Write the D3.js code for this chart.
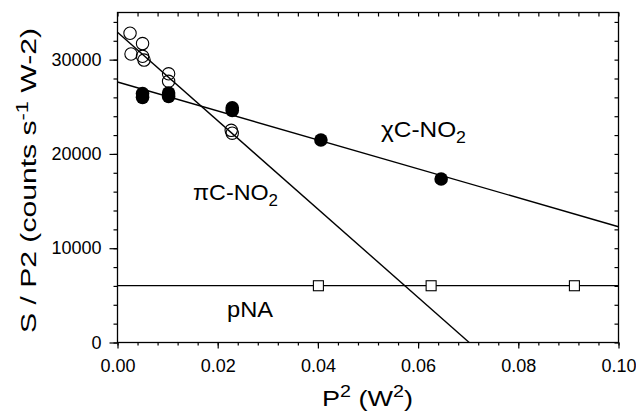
<!DOCTYPE html>
<html>
<head>
<meta charset="utf-8">
<script src="https://cdn.jsdelivr.net/npm/d3@7"></script>
<style>
  body { margin: 0; background: #fff; }
  svg { display: block; font-family: "Liberation Sans", Arial, sans-serif; }
</style>
</head>
<body>
<div id="chart"></div>
<script>
// open circles (piC-NO2)
const piX = [0.0025, 0.0027, 0.005, 0.005, 0.0053, 0.0102, 0.0102, 0.0227, 0.0229];
const piY = [32800, 30600, 31700, 30350, 29950, 28500, 27700, 22500, 22200];
// filled circles (chiC-NO2)
const chiX = [0.005, 0.005, 0.0102, 0.0102, 0.0229, 0.0229, 0.0406, 0.0646];
const chiY = [26400, 26000, 26450, 26100, 24900, 24600, 21480, 17340];
// open squares (pNA)
const pnaX = [0.0401, 0.0626, 0.0912];
const pnaY = [6020, 6020, 6020];

// fitted lines, end points
const piFitX = [0, 0.0702];
const piFitY = [32900, 0];
const chiFitX = [0, 0.1];
const chiFitY = [27630, 12280];
const pnaFitX = [0, 0.1];
const pnaFitY = [6030, 6030];

const xTicks = [0, 0.02, 0.04, 0.06, 0.08, 0.10];
const xTickLabels = ["0.00", "0.02", "0.04", "0.06", "0.08", "0.10"];
const yTicks = [0, 10000, 20000, 30000];
const yTickLabels = ["0", "10000", "20000", "30000"];

const width = 636;
const height = 412;
const margin = { top: 12.5, right: 17.5, bottom: 69.5, left: 117.5 };

const svg = d3.select("#chart")
    .append("svg")
    .attr("width", width)
    .attr("height", height);

const x = d3.scaleLinear()
    .domain([0, 0.1])
    .range([margin.left, width - margin.right]);

const y = d3.scaleLinear()
    .domain([0, 35000])
    .range([height - margin.bottom, margin.top]);

const xMinor = d3.range(0, 0.1001, 0.004);
const yMinor = d3.range(0, 35001, 2000);

// axes: ticks
svg.append("g")
    .attr("transform", `translate(0,${y(0)})`)
    .call(d3.axisBottom(x).tickValues(xMinor).tickSize(3).tickFormat(""));
svg.append("g")
    .attr("transform", `translate(0,${y(0)})`)
    .call(d3.axisBottom(x).tickValues(xTicks).tickSize(6)
        .tickFormat((d, i) => xTickLabels[i]).tickPadding(11));
svg.append("g")
    .attr("transform", `translate(0,${y(35000)})`)
    .call(d3.axisBottom(x).tickValues(xMinor).tickSize(4).tickFormat(""));
svg.append("g")
    .attr("transform", `translate(${x(0)},0)`)
    .call(d3.axisLeft(y).tickValues(yMinor).tickSize(4).tickFormat(""));
svg.append("g")
    .attr("transform", `translate(${x(0)},0)`)
    .call(d3.axisLeft(y).tickValues(yTicks).tickSize(8)
        .tickFormat((d, i) => yTickLabels[i]).tickPadding(8));
svg.append("g")
    .attr("transform", `translate(${x(0.1)},0)`)
    .call(d3.axisLeft(y).tickValues(yMinor).tickSize(4).tickFormat(""));

svg.selectAll(".domain").remove();
svg.selectAll(".tick line").attr("stroke", "#000").attr("stroke-width", 1.2);
svg.selectAll(".tick text")
    .attr("fill", "#000")
    .style("font-size", "18px")
    .style("font-family", "Liberation Sans, Arial, sans-serif");

// frame
svg.append("rect")
    .attr("x", x(0))
    .attr("y", y(35000))
    .attr("width", x(0.1) - x(0))
    .attr("height", y(0) - y(35000))
    .attr("fill", "none")
    .attr("stroke", "#000")
    .attr("stroke-width", 1.3);

// fit lines
const line = d3.line().x(d => x(d[0])).y(d => y(d[1]));
const fits = [
  [piFitX, piFitY],
  [chiFitX, chiFitY],
  [pnaFitX, pnaFitY]
];
fits.forEach(([fx, fy]) => {
  svg.append("path")
      .datum(fx.map((v, i) => [v, fy[i]]))
      .attr("d", line)
      .attr("fill", "none")
      .attr("stroke", "#000")
      .attr("stroke-width", 1.4);
});

// markers
svg.append("g")
    .selectAll("circle")
    .data(piX.map((v, i) => [v, piY[i]]))
    .join("circle")
    .attr("cx", d => x(d[0]))
    .attr("cy", d => y(d[1]))
    .attr("r", 6.2)
    .attr("fill", "none")
    .attr("stroke", "#000")
    .attr("stroke-width", 1.1);

svg.append("g")
    .selectAll("circle")
    .data(chiX.map((v, i) => [v, chiY[i]]))
    .join("circle")
    .attr("cx", d => x(d[0]))
    .attr("cy", d => y(d[1]))
    .attr("r", 6.8)
    .attr("fill", "#000");

svg.append("g")
    .selectAll("rect")
    .data(pnaX.map((v, i) => [v, pnaY[i]]))
    .join("rect")
    .attr("x", d => x(d[0]) - 5)
    .attr("y", d => y(d[1]) - 5)
    .attr("width", 10)
    .attr("height", 10)
    .attr("fill", "#fff")
    .attr("stroke", "#000")
    .attr("stroke-width", 1.1);

// series labels
const label = (px, py, len, size, parts) => {
  const t = svg.append("text")
      .attr("x", px)
      .attr("y", py)
      .attr("textLength", len)
      .attr("lengthAdjust", "spacingAndGlyphs")
      .style("font-size", size + "px")
      .attr("fill", "#000");
  parts.forEach(p => {
    const s = t.append("tspan").text(p.t);
    if (p.dy) s.attr("dy", p.dy);
    if (p.small) s.style("font-size", Math.round(size * 0.72) + "px");
  });
  return t;
};

label(381, 137, 85, 22, [{ t: "χC-NO" }, { t: "2", dy: 6, small: true }]);
label(193, 200, 85, 22, [{ t: "πC-NO" }, { t: "2", dy: 6, small: true }]);
label(227, 317, 46, 22, [{ t: "pNA" }]);

// axis titles
label(322, 406, 91, 22, [{ t: "P" }, { t: "2", dy: -9, small: true }, { t: " (W", dy: 9 },
  { t: "2", dy: -9, small: true }, { t: ")", dy: 9 }]);

const yt = svg.append("text")
    .attr("transform", "translate(36,333) rotate(-90)")
    .attr("textLength", 305)
    .attr("lengthAdjust", "spacingAndGlyphs")
    .style("font-size", "22px")
    .attr("fill", "#000");
yt.append("tspan").text("S / P2  (counts s");
yt.append("tspan").text("-1").attr("dy", -8).style("font-size", "16px");
yt.append("tspan").text(" W-2)").attr("dy", 8);
</script>
</body>
</html>
